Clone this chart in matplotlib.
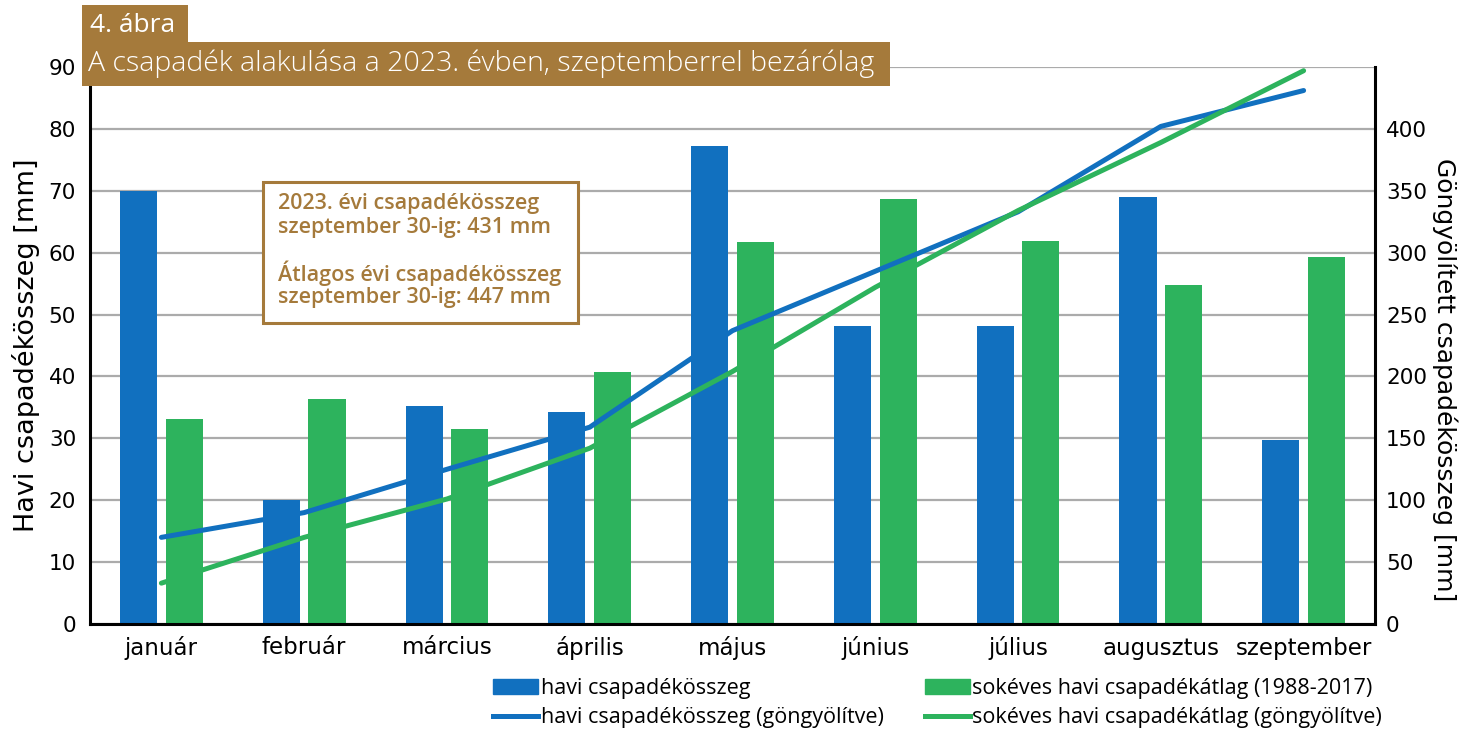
import matplotlib.pyplot as plt
from matplotlib.patches import Patch, Rectangle
from matplotlib.lines import Line2D
import numpy as np

months = ["január", "február", "március", "április", "május",
          "június", "július", "augusztus", "szeptember"]
havi_2023 = [70.0, 20.0, 35.2, 34.2, 77.3, 48.2, 48.2, 69.0, 29.8]
havi_atlag = [33.2, 36.4, 31.5, 40.7, 61.7, 68.7, 61.9, 54.8, 59.3]
gongy_2023 = [70, 90, 125, 159, 237, 285, 333, 402, 431]
gongy_atlag = [33, 70, 101, 142, 204, 272, 334, 389, 447]

blue = "#1170bf"
green = "#2db35d"
brown = "#a57a3b"

W, H = 1464, 731
def fx(p):
    return p / W
def fy(p):
    return 1 - p / H

plt.rcParams['font.family'] = ['DejaVu Sans']

fig = plt.figure(figsize=(W / 100, H / 100), dpi=100)
ax = fig.add_axes([fx(90), fy(624), 1285 / W, 557 / H])
ax2 = ax.twinx()

x = np.arange(len(months))
w = 0.26
ax.bar(x - 0.16, havi_2023, w, color=blue, zorder=2)
ax.bar(x + 0.16, havi_atlag, w, color=green, zorder=2)

ax.set_xlim(-0.5, 8.5)
ax.set_ylim(0, 90)
ax.set_yticks(range(0, 91, 10))
ax.set_xticks(x)
ax.set_xticklabels(months)
ax.tick_params(axis='y', length=0, labelsize=15.5, pad=10)
ax.tick_params(axis='x', length=0, labelsize=16.5, pad=9)
ax.grid(axis='y', color='#ababab', lw=1.6, zorder=0)
ax.set_axisbelow(True)
for s in ['top', 'right']:
    ax.spines[s].set_visible(False)
ax.spines['left'].set_linewidth(2.2)
ax.spines['bottom'].set_linewidth(2.2)
ax.set_ylabel("Havi csapadékösszeg [mm]", fontsize=19.5, labelpad=6)

ax2.plot(x, gongy_2023, color=blue, lw=3.6, solid_capstyle='round', zorder=3)
ax2.plot(x, gongy_atlag, color=green, lw=3.6, solid_capstyle='round', zorder=3)
ax2.set_ylim(0, 450)
ax2.set_yticks(range(0, 401, 50))
ax2.tick_params(axis='y', length=0, labelsize=15.5, pad=8)
for s in ['top', 'left', 'bottom']:
    ax2.spines[s].set_visible(False)
ax2.spines['right'].set_linewidth(2.2)
ax2.set_ylabel("Göngyölített csapadékösszeg [mm]", fontsize=18, rotation=270,
               va='center')
ax2.yaxis.set_label_coords(1.054, 0.438)

# title boxes
fig.patches.append(Rectangle((fx(82), fy(42)), 106 / W, 37 / H,
                             transform=fig.transFigure, fc=brown, ec='none', zorder=5))
fig.patches.append(Rectangle((fx(82), fy(86)), 808 / W, 44 / H,
                             transform=fig.transFigure, fc=brown, ec='none', zorder=5))
fig.text(fx(90), fy(25), "4. ábra", color='white', fontsize=19,
         family='Open Sans', va='center', ha='left', zorder=6)
fig.text(fx(88), fy(64), "A csapadék alakulása a 2023. évben, szeptemberrel bezárólag",
         color='white', fontsize=20.5, family='Open Sans', fontweight='light',
         va='center', ha='left', zorder=6)

# annotation box
fig.patches.append(Rectangle((fx(263), fy(323)), 315 / W, 141 / H,
                             transform=fig.transFigure, fc='white', ec=brown,
                             lw=2.2, zorder=5))
note = ["2023. évi csapadékösszeg", "szeptember 30-ig: 431 mm",
        "Átlagos évi csapadékösszeg", "szeptember 30-ig: 447 mm"]
for txt, yp in zip(note, [203, 228, 273, 298]):
    fig.text(fx(278), fy(yp), txt, color=brown, fontsize=15.5, family='Open Sans',
             fontweight='semibold', va='center', ha='left', zorder=6)

handles = [Patch(color=blue), Line2D([], [], color=blue, lw=3.6),
           Patch(color=green), Line2D([], [], color=green, lw=3.6)]
labels = ["havi csapadékösszeg", "havi csapadékösszeg (göngyölítve)",
          "sokéves havi csapadékátlag (1988-2017)",
          "sokéves havi csapadékátlag (göngyölítve)"]
fig.legend(handles, labels, ncol=2, loc='center left',
           bbox_to_anchor=(fx(493), fy(703)), frameon=False,
           handlelength=2.1, handletextpad=0.12, columnspacing=1.9,
           labelspacing=0.4, borderpad=0, borderaxespad=0,
           prop={'family': 'Open Sans', 'size': 15.5})

fig.savefig("out.png", dpi=100)
